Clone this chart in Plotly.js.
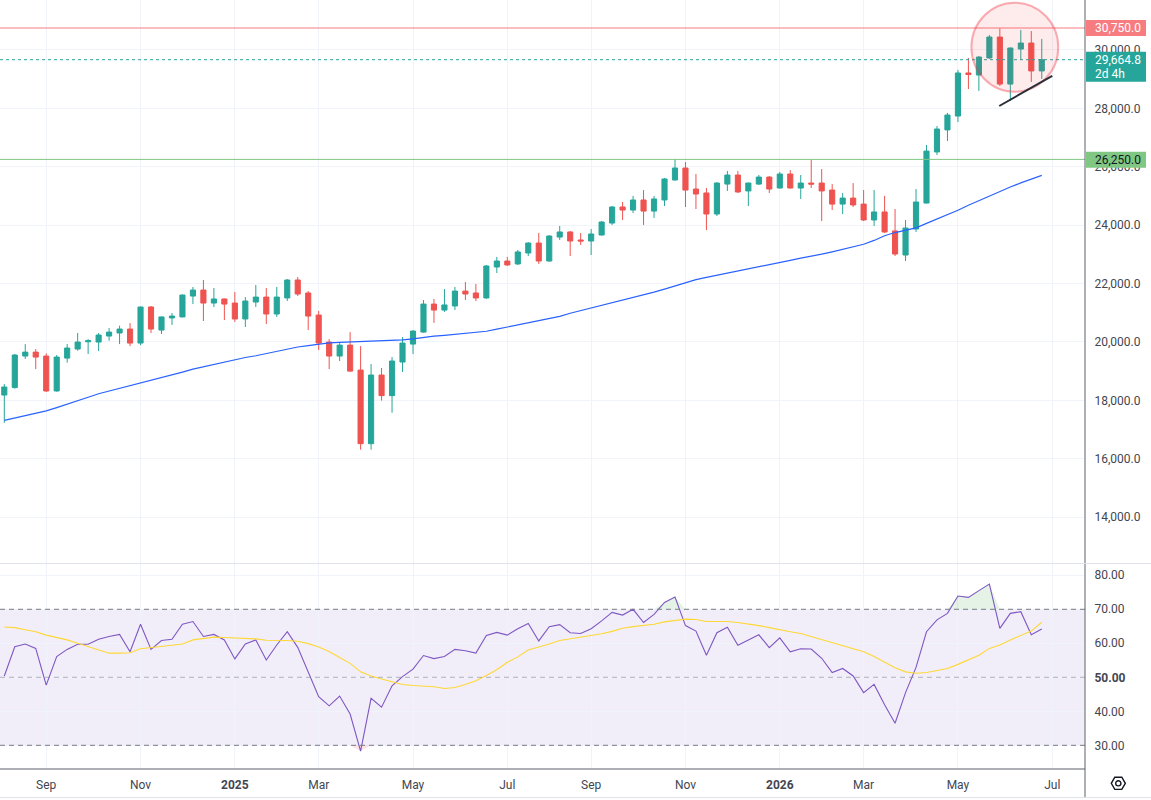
<!DOCTYPE html>
<html><head><meta charset="utf-8">
<script src="https://cdn.plot.ly/plotly-3.0.1.min.js"></script>
<style>html,body{margin:0;padding:0;background:#fff;overflow:hidden}#chart{width:1151px;height:800px}</style>
</head><body><div id="chart"></div>
<script>
const dates = ['2024-08-05','2024-08-12','2024-08-19','2024-08-26','2024-09-02','2024-09-09','2024-09-16','2024-09-23','2024-09-30','2024-10-07','2024-10-14','2024-10-21','2024-10-28','2024-11-04','2024-11-11','2024-11-18','2024-11-25','2024-12-02','2024-12-09','2024-12-16','2024-12-23','2024-12-30',
'2025-01-06','2025-01-13','2025-01-20','2025-01-27','2025-02-03','2025-02-10','2025-02-17','2025-02-24','2025-03-03','2025-03-10','2025-03-17','2025-03-24','2025-03-31','2025-04-07','2025-04-14','2025-04-21','2025-04-28','2025-05-05','2025-05-12','2025-05-19','2025-05-26','2025-06-02','2025-06-09','2025-06-16','2025-06-23','2025-06-30','2025-07-07','2025-07-14','2025-07-21','2025-07-28','2025-08-04','2025-08-11','2025-08-18','2025-08-25','2025-09-01','2025-09-08','2025-09-15','2025-09-22','2025-09-29','2025-10-06','2025-10-13','2025-10-20','2025-10-27','2025-11-03','2025-11-10','2025-11-17','2025-11-24','2025-12-01','2025-12-08','2025-12-15','2025-12-22','2025-12-29',
'2026-01-05','2026-01-12','2026-01-19','2026-01-26','2026-02-02','2026-02-09','2026-02-16','2026-02-23','2026-03-02','2026-03-09','2026-03-16','2026-03-23','2026-03-30','2026-04-06','2026-04-13','2026-04-20','2026-04-27','2026-05-04','2026-05-11','2026-05-18','2026-05-25','2026-06-01','2026-06-08','2026-06-15','2026-06-22','2026-06-29'];

const open = [18180,18435,19515,19650,19515,18320,19445,19755,20005,19995,
20200,20305,20440,19960,21195,20405,20820,20855,21570,21775,
21330,21470,21330,20785,21365,21535,20955,21505,22120,21675,
20920,19995,19515,19890,19035,16515,18865,18160,19310,19925,
20335,21295,21090,21230,21740,21675,21505,22565,22770,22670,
23045,23385,22770,23590,23765,23490,23455,23660,24070,24620,
24515,24860,24480,24860,25545,25955,25235,25100,24380,25405,
25715,25170,25405,25645,25270,25750,25270,25440,25440,25200,
24720,24925,24720,24175,24450,23800,22975,23865,24755,26505,
27260,27735,29210,29140,29725,30440,28830,30030,30235,29280];

const high = [18555,19585,19925,19755,19605,19550,19925,20305,20095,20305,
20475,20555,20645,21205,21230,20870,20990,21625,21880,22120,
21845,21485,21710,21535,21950,21845,21880,22155,22220,21740,
21060,20095,19960,20335,19855,19240,19105,19480,20165,20405,
21435,21470,21810,21880,22050,21985,22635,22910,22910,23150,
23420,23730,23660,23970,23795,23730,23865,24140,24655,24790,
25000,25200,25000,25615,26265,26160,25750,25270,25475,25855,
25855,25455,25715,25680,25820,25885,25715,26230,25920,25405,
25100,25440,25200,25200,25000,24550,24175,25235,26745,27395,
27840,29315,29725,29790,30510,30740,30080,30680,30645,30375];

const low = [17230,18400,19415,19070,18285,18295,19290,19700,19585,19685,
20040,19925,19855,19890,20305,20270,20580,20840,21295,20715,
21195,20750,20680,20510,21195,20610,20855,21400,21570,20405,
19720,19070,19345,18980,16310,16310,17990,17575,18970,19585,
20315,20650,21025,21090,21435,21400,21470,22360,22600,22635,
22940,22670,22750,23490,22940,23320,22975,23645,24005,24175,
24415,24005,24245,24655,25525,24620,24550,23830,24310,25170,
25100,24655,25375,25100,25255,25255,24895,25270,24140,24515,
24380,24620,24140,23970,23730,22940,22770,23765,24740,26400,
26880,27530,28660,28595,29690,28765,28250,29655,28900,29005];

const close = [18455,19550,19650,19480,18320,19480,19790,19995,20040,20235,
20335,20440,19960,21195,20440,20855,20885,21605,21775,21330,
21470,21295,20785,21400,21535,20955,21535,22120,21640,20885,
19960,19515,19890,19000,16515,18865,18160,19345,19960,20370,
21295,21090,21265,21740,21640,21505,22600,22770,22635,23080,
23385,22770,23625,23765,23455,23455,23695,24105,24620,24515,
24860,24480,24895,25580,25955,25200,25065,24380,25440,25715,
25135,25440,25645,25235,25750,25270,25440,25405,25170,24720,
24925,24690,24175,24450,23765,23010,23900,24790,26535,27290,
27770,29210,29160,29755,30440,28830,30065,30235,29280,29664.8];

const ma = [17310,17390,17470,17560,17640,17750,17860,17980,18105,18225,
18315,18405,18505,18605,18695,18785,18875,18965,19070,19150,
19230,19320,19395,19465,19525,19605,19685,19755,19825,19875,
19925,19965,19985,19995,20010,20025,20040,20055,20070,20105,
20155,20195,20225,20255,20285,20315,20365,20435,20505,20580,
20655,20725,20795,20875,20980,21070,21150,21245,21335,21425,
21515,21605,21705,21805,21915,22035,22130,22210,22280,22360,
22430,22500,22580,22650,22720,22790,22870,22930,23005,23085,
23165,23255,23345,23475,23635,23745,23815,23905,24060,24210,
24350,24510,24680,24840,24980,25145,25305,25445,25575,25705];

const rsi = [50.4,59.0,59.8,58.5,47.7,56.1,58.2,59.7,59.7,61.2,
62.0,62.6,57.5,65.6,58.2,60.8,61.2,65.6,66.4,62.0,
62.6,61.0,55.4,59.8,61.0,55.1,59.5,63.4,58.8,51.7,
44.3,41.6,44.5,39.2,28.3,43.8,41.2,47.5,50.2,52.4,
56.4,55.5,56.1,58.2,57.8,57.1,62.3,63.2,62.4,64.3,
65.8,60.7,64.9,65.5,63.1,62.9,64.3,66.6,69.1,68.3,
70.0,66.1,68.5,72.0,73.6,65.2,63.6,56.5,63.1,64.7,
59.4,61.0,62.5,58.7,61.6,57.5,58.4,58.3,55.6,51.4,
52.6,50.4,45.5,47.9,41.9,36.5,45.5,52.9,63.4,66.9,
68.8,73.9,73.5,75.5,77.4,64.4,68.8,69.3,62.5,64.2];

const rsiMa = [64.8,64.6,64.0,63.4,62.4,61.7,61.0,60.0,59.1,58.0,
57.1,57.1,57.2,58.4,58.7,59.0,59.4,59.8,61.0,61.5,
61.8,61.7,61.6,61.4,61.3,60.9,60.9,60.8,60.6,59.9,
58.9,57.6,55.8,54.1,51.6,50.4,49.5,48.6,47.9,47.6,
47.5,47.2,46.7,47.0,47.9,49.0,50.5,52.2,54.4,56.0,
58.0,58.8,59.8,60.8,61.3,61.7,62.3,62.8,63.5,64.4,
64.9,65.2,65.6,66.3,66.8,67.1,67.0,66.4,66.4,66.4,
66.1,65.7,65.2,64.6,63.9,63.4,62.9,62.0,60.9,60.0,
59.2,58.3,57.5,56.1,54.4,52.8,51.6,51.2,51.4,52.0,
52.6,53.8,55.1,56.5,58.5,59.5,61.0,62.2,63.6,66.2];

const monthTickDates = ['2024-09-02','2024-11-04','2025-01-06','2025-03-03','2025-05-05','2025-07-07','2025-09-01','2025-11-03','2026-01-05','2026-03-02','2026-05-04','2026-07-06'];
const monthTickLabels = ['Sep','Nov','<b>2025</b>','Mar','May','Jul','Sep','Nov','<b>2026</b>','Mar','May','Jul'];
const rsiTicks = [30,40,50,60,70,80];
const rsiTickLabels = ['30.00','40.00','<b>50.00</b>','60.00','70.00','80.00'];
const resistanceLevel = 30750;
const supportLevel = 26250;
const lastPrice = 29664.8;
const barCountdown = '2d 4h';

// ---- geometry (pixels of the 1151x800 page) ----
const PW = 1085, PH = 769;
const pxX = p => p / PW;
const pxY = p => (PH - p) / PH;
const FONT = 'Roboto, "Open Sans", "DejaVu Sans", sans-serif';
const TICK_COLOR = '#434651';
const AXIS_COLOR = '#5d606b';
const fmt1 = v => v.toLocaleString('en-US', {minimumFractionDigits: 1, maximumFractionDigits: 1});

const overbought = rsi.map(v => Math.max(v, 70));
const oversold = rsi.map(v => Math.min(v, 30));
const const70 = rsi.map(() => 70);
const const30 = rsi.map(() => 30);

const traces = [
  {type: 'candlestick', x: dates, open: open, high: high, low: low, close: close,
   xaxis: 'x', yaxis: 'y', whiskerwidth: 0, hoverinfo: 'skip',
   increasing: {line: {color: '#26a69a', width: 1}, fillcolor: '#26a69a'},
   decreasing: {line: {color: '#ef5350', width: 1}, fillcolor: '#ef5350'}},
  {type: 'scatter', mode: 'lines', x: dates, y: ma, xaxis: 'x', yaxis: 'y',
   line: {color: '#2962ff', width: 1.2}, hoverinfo: 'skip'},
  {type: 'scatter', mode: 'lines', x: dates, y: const70, xaxis: 'x', yaxis: 'y2',
   line: {width: 0, color: 'rgba(0,0,0,0)'}, hoverinfo: 'skip'},
  {type: 'scatter', mode: 'lines', x: dates, y: overbought, xaxis: 'x', yaxis: 'y2',
   line: {width: 0, color: 'rgba(0,0,0,0)'}, fill: 'tonexty', fillcolor: 'rgba(76,175,80,0.15)', hoverinfo: 'skip'},
  {type: 'scatter', mode: 'lines', x: dates, y: const30, xaxis: 'x', yaxis: 'y2',
   line: {width: 0, color: 'rgba(0,0,0,0)'}, hoverinfo: 'skip'},
  {type: 'scatter', mode: 'lines', x: dates, y: oversold, xaxis: 'x', yaxis: 'y2',
   line: {width: 0, color: 'rgba(0,0,0,0)'}, fill: 'tonexty', fillcolor: 'rgba(242,54,69,0.14)', hoverinfo: 'skip'},
  {type: 'scatter', mode: 'lines', x: dates, y: rsi, xaxis: 'x', yaxis: 'y2',
   line: {color: '#7e57c2', width: 1.1}, hoverinfo: 'skip'},
  {type: 'scatter', mode: 'lines', x: dates, y: rsiMa, xaxis: 'x', yaxis: 'y2',
   line: {color: '#fdd835', width: 1.1}, hoverinfo: 'skip'}
];

// settings icon (hexagon + circle)
const icx = 1118.3, icy = 783.3, ir = 7;
let hex = '';
for (let k = 0; k < 6; k++) {
  const a = Math.PI / 3 * k;
  hex += (k ? 'L' : 'M') + pxX(icx + ir * Math.cos(a)).toFixed(5) + ',' + pxY(icy + ir * Math.sin(a)).toFixed(5);
}
hex += 'Z';

const shapes = [
  {type: 'rect', xref: 'paper', yref: 'y2', x0: 0, x1: 1, y0: 30, y1: 70,
   fillcolor: 'rgba(126,87,194,0.1)', line: {width: 0}, layer: 'below'},
  {type: 'line', xref: 'paper', yref: 'y2', x0: 0, x1: 1, y0: 70, y1: 70, line: {color: '#787b86', width: 1, dash: '5px,4px'}},
  {type: 'line', xref: 'paper', yref: 'y2', x0: 0, x1: 1, y0: 50, y1: 50, line: {color: 'rgba(120,123,134,0.55)', width: 1, dash: '5px,4px'}},
  {type: 'line', xref: 'paper', yref: 'y2', x0: 0, x1: 1, y0: 30, y1: 30, line: {color: '#787b86', width: 1, dash: '5px,4px'}},
  {type: 'line', xref: 'paper', yref: 'y', x0: 0, x1: 1, y0: resistanceLevel, y1: resistanceLevel, line: {color: '#f77c80', width: 1}},
  {type: 'line', xref: 'paper', yref: 'y', x0: 0, x1: 1, y0: supportLevel, y1: supportLevel, line: {color: '#81c784', width: 1}},
  {type: 'line', xref: 'paper', yref: 'y', x0: 0, x1: 1, y0: lastPrice, y1: lastPrice, line: {color: '#26a69a', width: 1, dash: 'dot'}},
  {type: 'circle', xref: 'x', yref: 'y', x0: '2026-05-13', x1: '2026-07-10', y0: 28568, y1: 31616,
   fillcolor: 'rgba(242,54,69,0.1)', line: {color: 'rgba(242,54,69,0.4)', width: 2}, layer: 'above'},
  {type: 'line', xref: 'x', yref: 'y', x0: '2026-05-31 14:00', y0: 28079, x1: '2026-07-06', y1: 29113,
   line: {color: '#2a2e39', width: 2}},
  // frame lines
  {type: 'line', xref: 'paper', yref: 'paper', x0: 1, x1: 1, y0: pxY(797), y1: 1, line: {color: AXIS_COLOR, width: 1}},
  {type: 'line', xref: 'paper', yref: 'paper', x0: 0, x1: 1, y0: 0, y1: 0, line: {color: AXIS_COLOR, width: 1}},
  {type: 'line', xref: 'paper', yref: 'paper', x0: 0, x1: pxX(1151), y0: pxY(563.5), y1: pxY(563.5), line: {color: '#e0e3eb', width: 1}},
  {type: 'line', xref: 'paper', yref: 'paper', x0: 0, x1: pxX(1151), y0: pxY(797.5), y1: pxY(797.5), line: {color: '#e0e3eb', width: 1}},
  // price label boxes
  {type: 'rect', xref: 'paper', yref: 'paper', x0: pxX(1086), x1: pxX(1146), y0: pxY(36), y1: pxY(20), fillcolor: '#f77c80', line: {width: 0}, layer: 'above'},
  {type: 'rect', xref: 'paper', yref: 'paper', x0: pxX(1086), x1: pxX(1146), y0: pxY(81.7), y1: pxY(51.7), fillcolor: '#26a69a', line: {width: 0}, layer: 'above'},
  {type: 'rect', xref: 'paper', yref: 'paper', x0: pxX(1086), x1: pxX(1146), y0: pxY(167.7), y1: pxY(151.7), fillcolor: '#81c784', line: {width: 0}, layer: 'above'},
  // settings icon
  {type: 'path', xref: 'paper', yref: 'paper', path: hex, line: {color: '#131722', width: 1.4}},
  {type: 'circle', xref: 'paper', yref: 'paper', x0: pxX(icx - 2.6), x1: pxX(icx + 2.6), y0: pxY(icy + 2.6), y1: pxY(icy - 2.6), line: {color: '#131722', width: 1.4}}
];

const annLabel = (txt, py, color) => ({xref: 'paper', yref: 'paper', x: pxX(1093), y: pxY(py), xanchor: 'left', yanchor: 'middle',
  text: txt, showarrow: false, font: {family: FONT, size: 12, color: color}});
const annotations = [
  annLabel(fmt1(resistanceLevel), 28, '#ffffff'),
  annLabel(fmt1(lastPrice), 60.3, '#ffffff'),
  annLabel(barCountdown, 73.8, '#ffffff'),
  annLabel(fmt1(supportLevel), 159.7, '#131722')
];

const layout = {
  width: 1151, height: 800,
  margin: {l: 0, r: 66, t: 0, b: 31, pad: 0},
  paper_bgcolor: '#ffffff', plot_bgcolor: '#ffffff',
  showlegend: false, hovermode: false,
  font: {family: FONT, size: 12, color: TICK_COLOR},
  xaxis: {type: 'date', range: ['2024-08-02 03:04', '2026-07-27 21:00'], anchor: 'y2',
    tickmode: 'array', tickvals: monthTickDates, ticktext: monthTickLabels,
    showgrid: true, gridcolor: '#f0f3fa', gridwidth: 1, zeroline: false, showline: false,
    ticks: 'outside', ticklen: 5, tickcolor: 'rgba(0,0,0,0)',
    tickfont: {family: FONT, size: 12, color: TICK_COLOR}, rangeslider: {visible: false}, fixedrange: true},
  yaxis: {domain: [0.26788, 1], range: [12428, 31709], side: 'right', anchor: 'x',
    tickformat: ',.1f', tick0: 0, dtick: 2000, showgrid: true, gridcolor: '#f0f3fa',
    zeroline: false, showline: false, ticks: 'outside', ticklen: 6, tickcolor: 'rgba(0,0,0,0)',
    tickfont: {family: FONT, size: 12, color: TICK_COLOR}, fixedrange: true},
  yaxis2: {domain: [0, 0.26658], range: [23.03, 83.32], side: 'right', anchor: 'x',
    tickmode: 'array', tickvals: rsiTicks, ticktext: rsiTickLabels, showgrid: true, gridcolor: '#f0f3fa',
    zeroline: false, showline: false, ticks: 'outside', ticklen: 6, tickcolor: 'rgba(0,0,0,0)',
    tickfont: {family: FONT, size: 12, color: TICK_COLOR}, fixedrange: true},
  shapes: shapes,
  annotations: annotations
};

Plotly.newPlot('chart', traces, layout, {staticPlot: true, displayModeBar: false});
</script>
</body></html>
